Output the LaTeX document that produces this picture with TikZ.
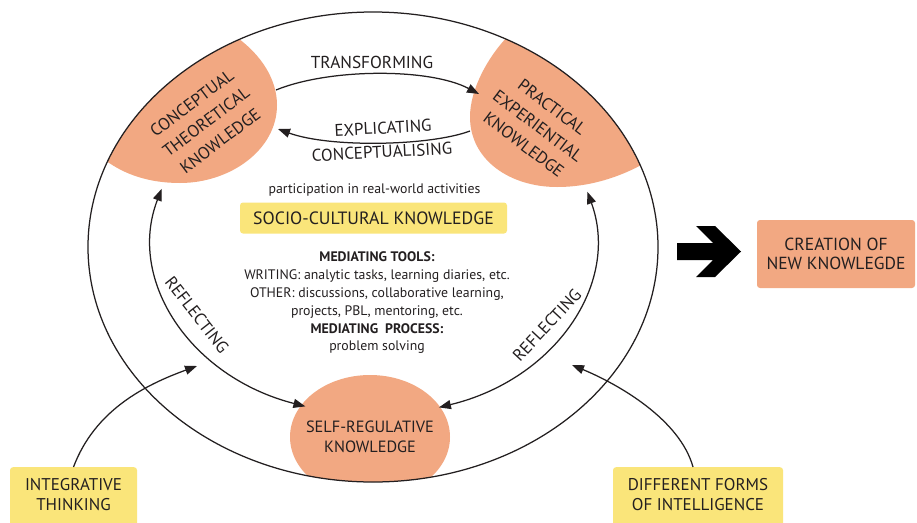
\documentclass[tikz,border=0pt]{standalone}
\usepackage{fontspec}
\setmainfont{PT Sans}
\usetikzlibrary{arrows.meta}
\definecolor{blobc}{RGB}{242,168,130}
\definecolor{yelc}{RGB}{250,229,122}
\definecolor{ink}{RGB}{35,31,32}
\begin{document}
\begin{tikzpicture}[x=1pt,y=-1pt,
  conn/.style={draw=ink, line width=1.25pt},
  tip/.style={-{Triangle[length=12pt,width=9pt]}},
  dtip/.style={{Triangle[length=12pt,width=9pt]}-{Triangle[length=12pt,width=9pt]}},
  lbl/.style={text=ink, inner sep=0pt, align=center, font=\fontsize{17}{20}\selectfont},
  blobtxt/.style={text=ink, inner sep=0pt, align=center, font=\fontsize{17}{23.5}\selectfont},
  small/.style={text=ink, inner sep=0pt, align=center, font=\fontsize{13.8}{17.8}\selectfont},
  ybox/.style={fill=yelc, rounded corners=3pt, inner sep=0pt},
  obox/.style={fill=blobc, rounded corners=3pt, inner sep=0pt}]
\useasboundingbox (0,0) rectangle (917,522);
\fill[white] (0,0) rectangle (917,522);

% knowledge blobs, clipped by the outer ellipse
\begin{scope}
  \clip (373,247) ellipse [x radius=285, y radius=235];
  \fill[blobc] (235,36) .. controls (262,55) and (277,80) .. (277,105)
     .. controls (277,150) and (230,183) .. (180,183)
     .. controls (150,183) and (125,175) .. (105,160) -- (40,200) -- (60,-20) -- cycle;
  \fill[blobc] (508,36) .. controls (487,58) and (470,90) .. (470,117)
     .. controls (470,160) and (510,187) .. (557,187)
     .. controls (590,187) and (620,177) .. (645,163) -- (720,150) -- (660,-20) -- cycle;
  \fill[blobc] (370,437) ellipse [x radius=80, y radius=62];
\end{scope}
\draw[conn] (373,247) ellipse [x radius=285, y radius=235];

% blob texts
\node[blobtxt, rotate=37] (ctk) at (206,122) {CONCEPTUAL\\THEORETICAL\\KNOWLEDGE};
\node[blobtxt, rotate=-37] (pek) at (538,126) {PRACTICAL\\EXPERIENTIAL\\KNOWLEDGE};
\node[lbl, font=\fontsize{16.3}{20}\selectfont] (srk) at (370,437) {SELF-REGULATIVE\\KNOWLEDGE};

% top arrows
\coordinate (ctkR) at (276,90);
\coordinate (pekL) at (479,94);
\coordinate (pekL2) at (470,131);
\coordinate (ctkR2) at (278,129);
\draw[conn, tip] (ctkR) .. controls (330,68) and (430,68) .. (pekL);
\draw[conn, tip] (pekL2) .. controls (430,146) and (330,148) .. (ctkR2);
\node[lbl, font=\fontsize{17.3}{20}\selectfont] (trans) at (372,62) {TRANSFORMING};
\node[lbl, rotate=3] (expl) at (383,128) {EXPLICATING};
\node[lbl, rotate=3] (conc) at (382,152) {CONCEPTUALISING};

% reflecting arcs
\coordinate (srkL) at (305.4,406.4);
\coordinate (srkR) at (438.9,407.4);
\draw[conn, dtip] (srkL) arc [start angle=108, end angle=197, x radius=222, y radius=175];
\draw[conn, dtip] (srkR) arc [start angle=73, end angle=-16, x radius=222, y radius=175];
\node[lbl, rotate=-52] (refl) at (197,315) {REFLECTING};
\node[lbl, rotate=47] (refr) at (547,325) {REFLECTING};

% centre
\node[small] (part) at (374.5,190) {participation in real-world activities};
\node[ybox, minimum width=267pt, minimum height=31pt] (socbox) at (373.5,218) {};
\node[text=ink, inner sep=0pt, font=\fontsize{17.8}{20}\selectfont] (soc) at (373.5,218) {SOCIO-CULTURAL KNOWLEDGE};
\node[small] (med) at (377,303) {\textbf{MEDIATING TOOLS:}\\WRITING: analytic tasks, learning diaries, etc.\\OTHER: discussions, collaborative learning,\\projects, PBL, mentoring, etc.\\\textbf{MEDIATING\ \ PROCESS:}\\problem solving};

% creation
\fill[black] (677,243) -- (713,243) -- (696,226) -- (715,226) -- (741,251.5) -- (715,277) -- (696,277) -- (713,260) -- (677,260) -- cycle;
\node[obox, minimum width=158pt, minimum height=68pt] (crebox) at (836,254) {};
\node[lbl, font=\fontsize{17.5}{18.5}\selectfont] (cre) at (836,254) {CREATION OF\\NEW KNOWLEGDE};

% bottom boxes
\node[ybox, minimum width=127pt, minimum height=70pt, anchor=north] (intbox) at (73.5,467) {};
\node[lbl] (inttxt) at (73.5,495) {INTEGRATIVE\\THINKING};
\node[ybox, minimum width=170pt, minimum height=70pt, anchor=north] (difbox) at (698,467) {};
\node[lbl] (diftxt) at (698,495) {DIFFERENT FORMS\\OF INTELLIGENCE};
\coordinate (inttip) at (197,366);
\coordinate (diftip) at (572,365);
\draw[conn, tip] (intbox.north) .. controls (95,410) and (145,385) .. (inttip);
\draw[conn, tip] ([xshift=-5pt]difbox.north) .. controls (680,420) and (620,385) .. (diftip);
\end{tikzpicture}
\end{document}
